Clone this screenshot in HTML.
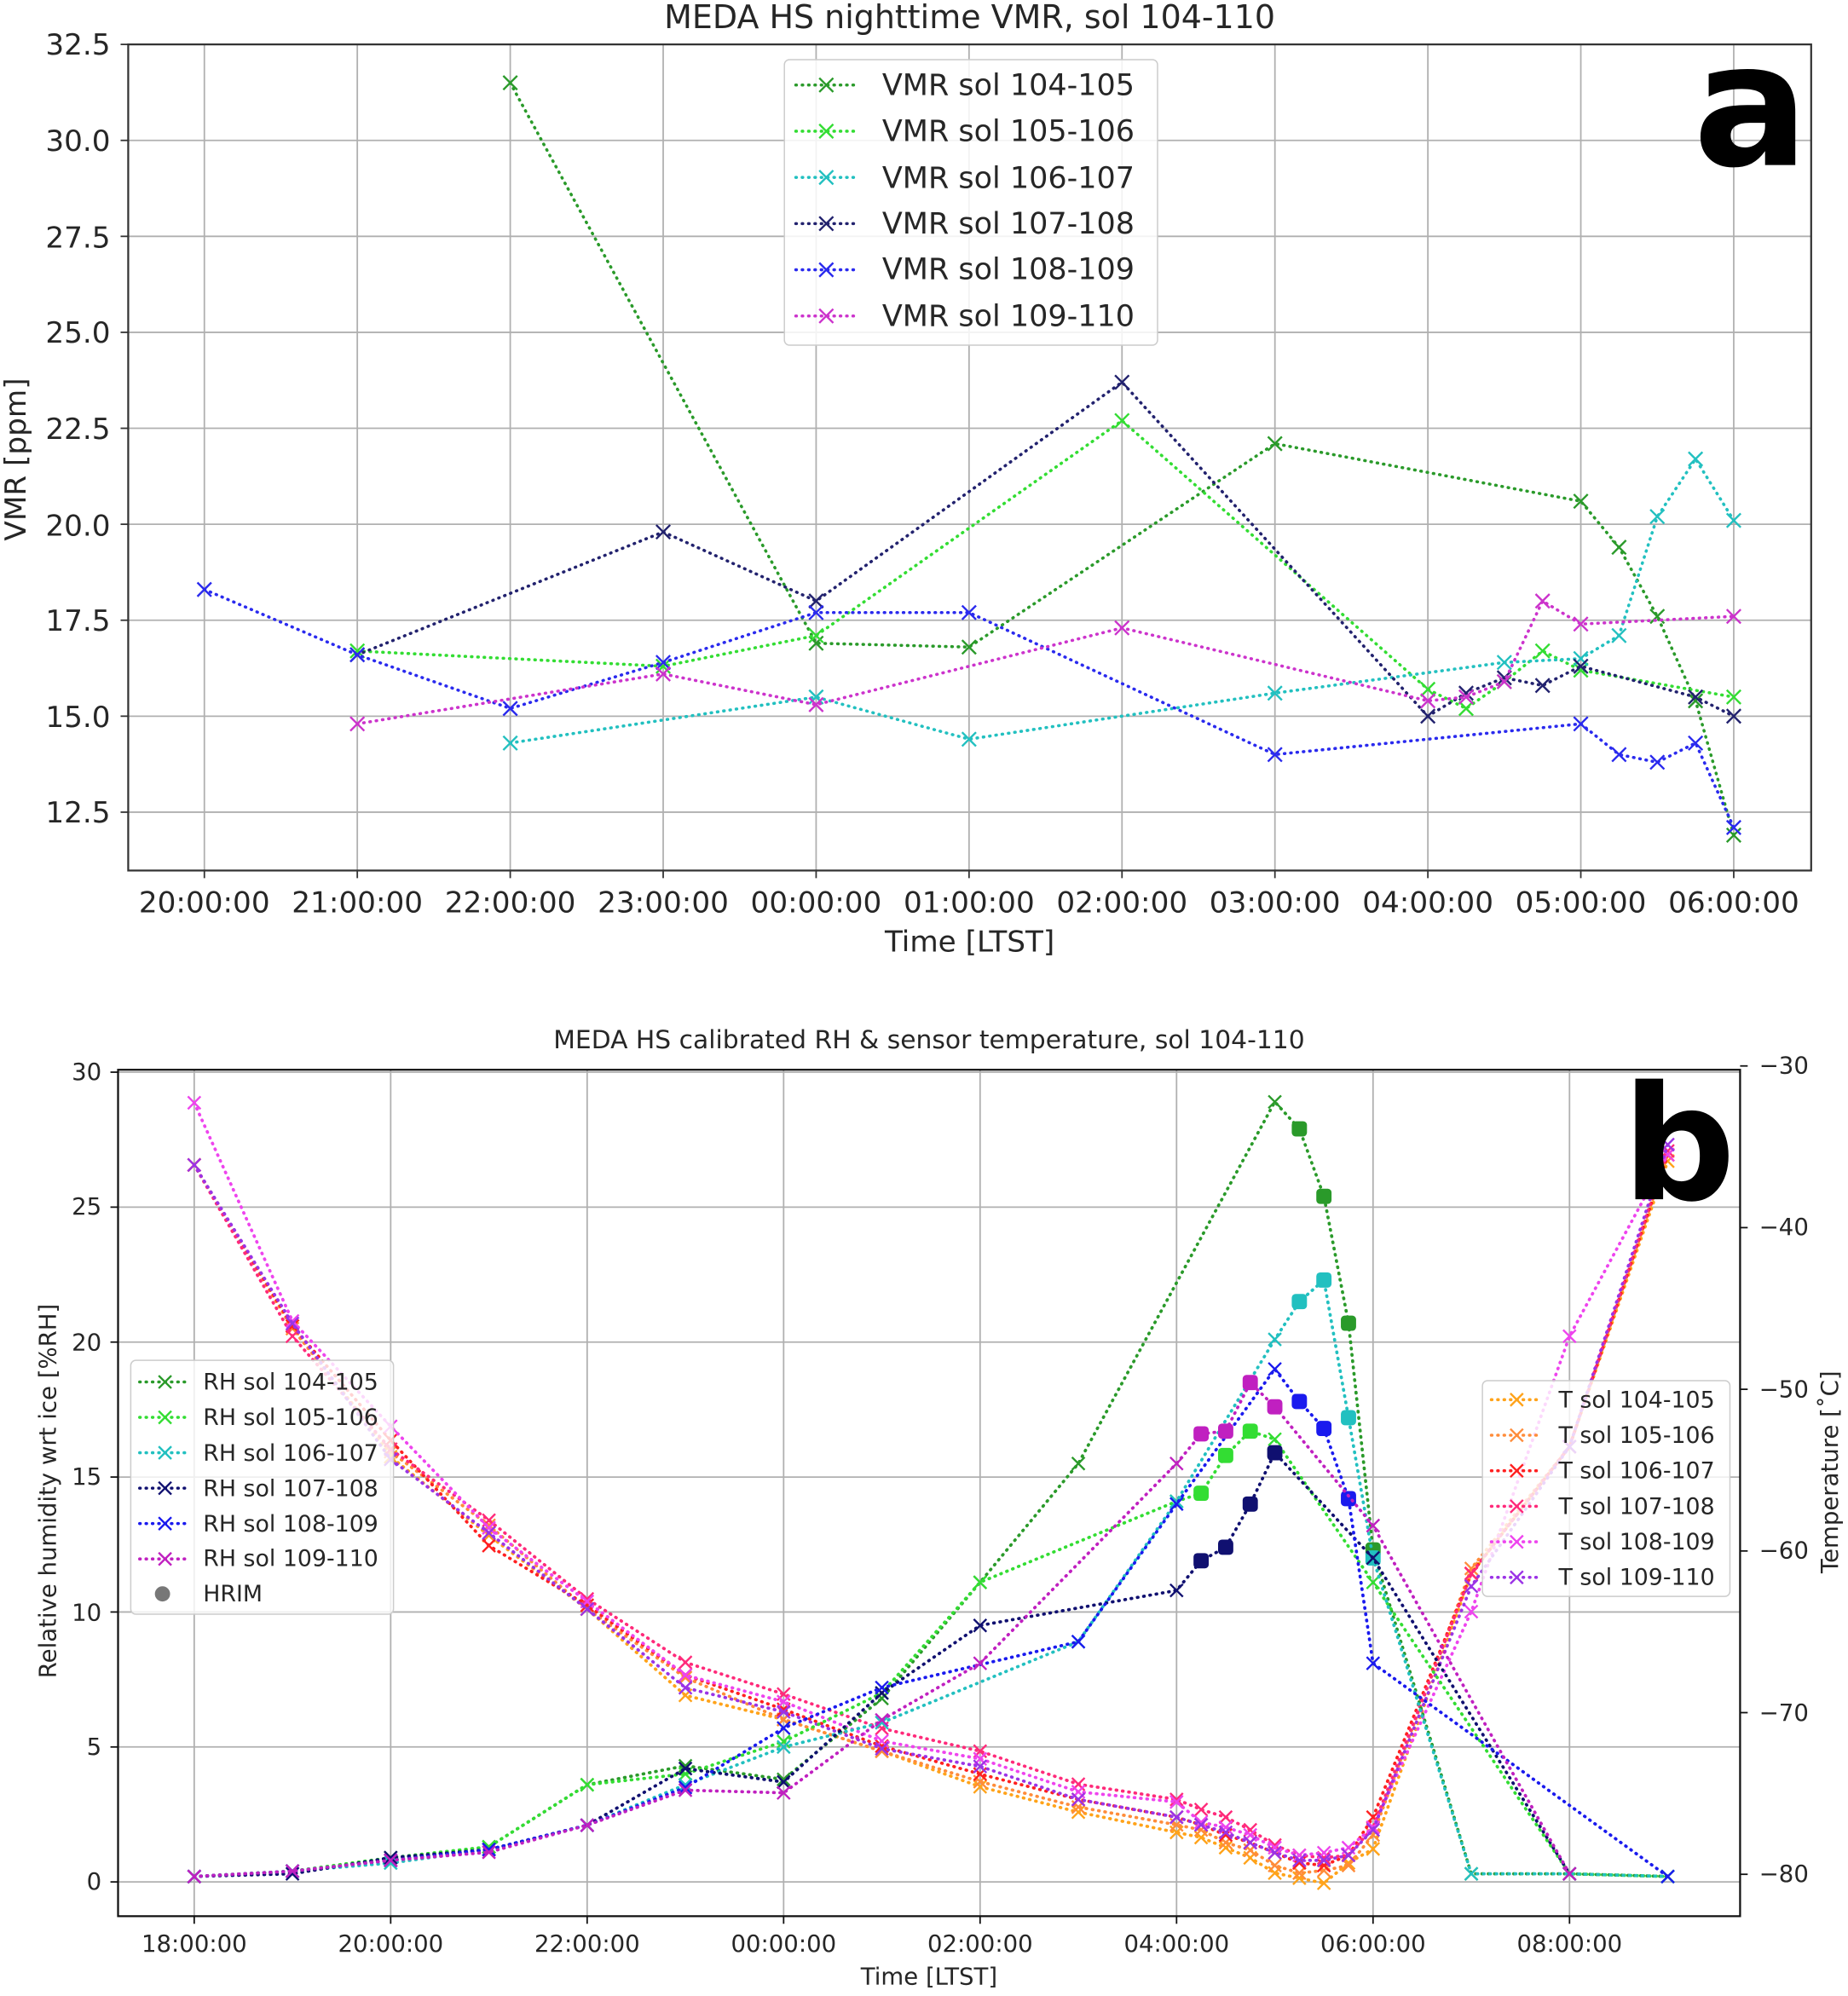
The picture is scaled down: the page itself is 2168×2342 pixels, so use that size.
<!DOCTYPE html>
<html><head><meta charset="utf-8"><style>
html,body{margin:0;padding:0;background:#fff}
svg{display:block}
text{font-family:"DejaVu Sans","Liberation Sans",sans-serif;fill:#262626}
</style></head><body>
<svg id="s" width="2168" height="2342" viewBox="0 0 1456 1572.9" xmlns="http://www.w3.org/2000/svg">
<rect width="1456" height="1573" fill="#fff"/>
<g id="grid" stroke="#b0b0b0" stroke-width="1.2"></g>
<g id="series"></g>
<!-- Panel a frame -->
<rect x="101" y="35" width="1326" height="651" fill="none" stroke="#333" stroke-width="1.5"/>
<text x="764" y="22" font-size="25.5" text-anchor="middle">MEDA HS nighttime VMR, sol 104-110</text>
<g font-size="23" text-anchor="end">
<text x="87" y="43">32.5</text><text x="87" y="119">30.0</text><text x="87" y="195">27.5</text>
<text x="87" y="270">25.0</text><text x="87" y="346">22.5</text><text x="87" y="422">20.0</text>
<text x="87" y="497">17.5</text><text x="87" y="573">15.0</text><text x="87" y="648">12.5</text>
</g>
<g font-size="23" text-anchor="middle">
<text x="161" y="719">20:00:00</text><text x="281.5" y="719">21:00:00</text><text x="402" y="719">22:00:00</text>
<text x="522.5" y="719">23:00:00</text><text x="643" y="719">00:00:00</text><text x="763.5" y="719">01:00:00</text>
<text x="884" y="719">02:00:00</text><text x="1004.5" y="719">03:00:00</text><text x="1125" y="719">04:00:00</text>
<text x="1245.5" y="719">05:00:00</text><text x="1366" y="719">06:00:00</text>
<text x="764" y="750">Time [LTST]</text>
</g>
<text font-size="23" text-anchor="middle" transform="translate(20,362) rotate(-90)">VMR [ppm]</text>
<text x="1334" y="130" font-size="135" font-weight="bold" style="fill:#000" font-family="Liberation Sans">a</text>
<!-- legend a -->
<rect x="618" y="47" width="294" height="225" rx="4" fill="#fff" fill-opacity="0.85" stroke="#ccc"/>
<g id="lega"></g>
<g font-size="23.5">
<text x="695" y="75">VMR sol 104-105</text><text x="695" y="111">VMR sol 105-106</text>
<text x="695" y="148">VMR sol 106-107</text><text x="695" y="184">VMR sol 107-108</text>
<text x="695" y="220">VMR sol 108-109</text><text x="695" y="257">VMR sol 109-110</text>
</g>
<!-- Panel b -->
<rect x="93" y="843" width="1278" height="667" fill="none" stroke="#111" stroke-width="1.5"/>
<text x="732" y="826" font-size="20" text-anchor="middle">MEDA HS calibrated RH &amp; sensor temperature, sol 104-110</text>
<g font-size="18.5" text-anchor="end">
<text x="80" y="1489">0</text><text x="80" y="1383">5</text><text x="80" y="1277">10</text>
<text x="80" y="1170">15</text><text x="80" y="1064">20</text><text x="80" y="957">25</text><text x="80" y="851">30</text>
</g>
<g font-size="18.5">
<text x="1386" y="846">−30</text><text x="1386" y="973">−40</text><text x="1386" y="1101">−50</text>
<text x="1386" y="1228">−60</text><text x="1386" y="1356">−70</text><text x="1386" y="1483">−80</text>
</g>
<g font-size="18.5" text-anchor="middle">
<text x="153" y="1538">18:00:00</text><text x="307.8" y="1538">20:00:00</text><text x="462.6" y="1538">22:00:00</text>
<text x="617.4" y="1538">00:00:00</text><text x="772.2" y="1538">02:00:00</text><text x="927" y="1538">04:00:00</text>
<text x="1081.8" y="1538">06:00:00</text><text x="1236.6" y="1538">08:00:00</text>
<text x="732" y="1564">Time [LTST]</text>
</g>
<text font-size="18.5" text-anchor="middle" transform="translate(44,1175) rotate(-90)">Relative humidity wrt ice [%RH]</text>
<text font-size="18.5" text-anchor="middle" transform="translate(1448,1160) rotate(-90)">Temperature [˚C]</text>
<text x="1278" y="945" font-size="125" font-weight="bold" style="fill:#000" font-family="Liberation Sans">b</text>
<rect x="103" y="1072" width="207" height="200" rx="4" fill="#fff" fill-opacity="0.8" stroke="#ccc"/>
<rect x="1168" y="1088" width="195" height="170" rx="4" fill="#fff" fill-opacity="0.8" stroke="#ccc"/>
<g id="legb"></g>
<g font-size="18">
<text x="160" y="1095">RH sol 104-105</text><text x="160" y="1123">RH sol 105-106</text>
<text x="160" y="1151">RH sol 106-107</text><text x="160" y="1179">RH sol 107-108</text>
<text x="160" y="1207">RH sol 108-109</text><text x="160" y="1234">RH sol 109-110</text>
<text x="160" y="1262">HRIM</text>
<text x="1228" y="1109">T sol 104-105</text><text x="1228" y="1137">T sol 105-106</text>
<text x="1228" y="1165">T sol 106-107</text><text x="1228" y="1193">T sol 107-108</text>
<text x="1228" y="1221">T sol 108-109</text><text x="1228" y="1249">T sol 109-110</text>
</g>
</svg>
<script>
var NS="http://www.w3.org/2000/svg";
function el(p,t,a){var e=document.createElementNS(NS,t);for(var k in a)e.setAttribute(k,a[k]);p.appendChild(e);return e;}
var G=document.getElementById("grid"),S=document.getElementById("series");
for(var h=0;h<=10;h++){var x=161+120.5*h;el(G,"line",{x1:x,y1:35,x2:x,y2:686});el(G,"line",{x1:x,y1:686,x2:x,y2:692,stroke:"#333"});}
for(var i=0;i<9;i++){var y=35+i*75.625;el(G,"line",{x1:101,y1:y,x2:1427,y2:y});el(G,"line",{x1:95,y1:y,x2:101,y2:y,stroke:"#333"});}
for(var h=0;h<=14;h+=2){var x=153+77.4*h;el(G,"line",{x1:x,y1:843,x2:x,y2:1510});el(G,"line",{x1:x,y1:1510,x2:x,y2:1516,stroke:"#111"});}
for(var v=0;v<=30;v+=5){var y=1483-v*21.27;el(G,"line",{x1:93,y1:y,x2:1371,y2:y});el(G,"line",{x1:87,y1:y,x2:93,y2:y,stroke:"#111"});}
for(var t=-30;t>=-80;t-=10){var y=840+(-30-t)*12.74;el(G,"line",{x1:1371,y1:y,x2:1377,y2:y,stroke:"#111"});}
function cross(g,x,y,s,c,w){el(g,"path",{d:"M"+(x-s)+" "+(y-s)+"L"+(x+s)+" "+(y+s)+"M"+(x-s)+" "+(y+s)+"L"+(x+s)+" "+(y-s),stroke:c,"stroke-width":w||1.6,fill:"none"});}
function line(g,pts,c,w){var d=pts.map(function(p,i){return (i?"L":"M")+p[0].toFixed(1)+" "+p[1].toFixed(1)}).join("");
 el(g,"path",{d:d,stroke:c,"stroke-width":w||2.4,fill:"none","stroke-dasharray":"0.5 4.5","stroke-linecap":"round"});}
function XA(h){return 161+120.5*h}function YA(v){return 35+(32.5-v)*30.25}
var A=[
["#2a9a2a",[[2,31.5],[4,16.9],[5,16.8],[7,22.1],[9,20.6],[9.25,19.4],[9.5,17.6],[9.75,15.4],[10,11.9]]],
["#33dd33",[[1,16.7],[3,16.3],[4,17.1],[6,22.7],[8,15.7],[8.25,15.2],[8.5,15.9],[8.75,16.7],[9,16.2],[10,15.5]]],
["#22c0c0",[[2,14.3],[4,15.5],[5,14.4],[7,15.6],[8.5,16.4],[9,16.5],[9.25,17.1],[9.5,20.2],[9.75,21.7],[10,20.1]]],
["#22226e",[[1,16.6],[3,19.8],[4,18.0],[6,23.7],[8,15.0],[8.25,15.6],[8.5,16.0],[8.75,15.8],[9,16.3],[9.75,15.5],[10,15.0]]],
["#2a2aee",[[0,18.3],[1,16.6],[2,15.2],[3,16.4],[4,17.7],[5,17.7],[7,14.0],[9,14.8],[9.25,14.0],[9.5,13.8],[9.75,14.3],[10,12.1]]],
["#cc33cc",[[1,14.8],[3,16.1],[4,15.3],[6,17.3],[8,15.4],[8.25,15.5],[8.5,15.9],[8.75,18.0],[9,17.4],[10,17.6]]]];
A.forEach(function(s){var p=s[1].map(function(q){return [XA(q[0]),YA(q[1])]});line(S,p,s[0]);p.forEach(function(q){cross(S,q[0],q[1],5.5,s[0])});});
var LA=document.getElementById("lega");
A.forEach(function(s,i){var y=67+i*36.4;line(LA,[[627,y],[675,y]],s[0]);cross(LA,651,y,5.5,s[0]);});
function XB(h){return 153+77.4*h}function YB(v){return 1483-v*21.27}
var B=[
["#2a9a2a",[[0,.2],[1,.4],[2,.8],[3,1.3],[4,3.6],[5,4.3],[6,3.8],[7,6.8],[8,11.1],[9,15.5],[11,28.9],[11.25,27.9],[11.5,25.4],[11.75,20.7],[12,12.3],[13,.3],[14,.3],[15,.2]],[11.25,11.5,11.75,12]],
["#33dd33",[[0,.2],[1,.4],[2,.9],[3,1.3],[4,3.6],[5,4.0],[6,5.2],[7,7.0],[8,11.1],[10,14.1],[10.25,14.4],[10.5,15.8],[10.75,16.7],[11,16.4],[12,11.1],[14,.3],[15,.2]],[10.25,10.5,10.75]],
["#22c0c0",[[0,.2],[1,.4],[2,.7],[3,1.2],[4,2.1],[5,3.6],[6,5.0],[7,5.9],[9,8.9],[10,14.1],[11,20.1],[11.25,21.5],[11.5,22.3],[11.75,17.2],[12,12.0],[13,.3],[14,.3],[15,.2]],[11.25,11.5,11.75,12]],
["#101070",[[0,.2],[1,.3],[2,.9],[3,1.2],[4,2.1],[5,4.2],[6,3.7],[7,7.0],[8,9.5],[10,10.8],[10.25,11.9],[10.5,12.4],[10.75,14.0],[11,15.9],[12,12.0],[14,.3]],[10.25,10.5,10.75,11]],
["#1a1aee",[[0,.2],[1,.4],[2,.8],[3,1.2],[4,2.1],[5,3.5],[6,5.7],[7,7.2],[9,8.9],[10,14.0],[11,19.0],[11.25,17.8],[11.5,16.8],[11.75,14.2],[12,8.1],[15,.2]],[11.25,11.5,11.75]],
["#c020c0",[[0,.2],[1,.4],[2,.8],[3,1.1],[4,2.1],[5,3.4],[6,3.3],[7,6.0],[8,8.1],[10,15.5],[10.25,16.6],[10.5,16.7],[10.75,18.5],[11,17.6],[12,13.2],[14,.3]],[10.25,10.5,10.75,11]]];
var TB=[[0,918],[1,1045],[2,1140],[3,1208],[4,1268],[5,1330],[6,1355],[7,1380],[8,1402],[9,1424],[10,1440],[10.25,1446],[10.5,1452],[10.75,1458],[11,1466],[11.25,1472],[11.5,1474],[11.75,1468],[12,1452],[13,1240],[14,1140],[15,910]];
var T=[["#ffa31a",[0,0,8,2,0,6,0,0,6,4,4,2,4,6,10,8,10,0,5,0,0,5]],
["#ff8c3a",[0,2,4,-6,0,-8,0,0,2,0,-2,-4,0,0,4,4,0,2,-6,-4,0,0]],
["#ff2020",[0,0,-5,10,-3,-10,-8,-4,-4,-6,-8,-8,-6,-6,-6,-4,-4,-6,-20,0,0,0]],
["#ff2a7a",[0,8,2,-10,-8,-20,-20,-18,-22,-18,-22,-20,-20,-16,-12,-10,-10,-6,-12,0,0,-3]],
["#ee44ee",[-49,-4,-16,-4,-6,-10,-14,-8,-16,-12,-20,-10,-12,-12,-10,-10,-14,-12,-12,30,-87,0]],
["#9b33e6",[0,-2,10,0,0,0,-6,-2,-10,-6,-8,-8,-8,-6,-6,-6,-8,-6,-10,10,0,-8]]];
T.forEach(function(s){var p=TB.map(function(q,i){return [XB(q[0]),q[1]+s[1][i]]});line(S,p,s[0],2.5);p.forEach(function(q){cross(S,q[0],q[1],5,s[0])});});
B.forEach(function(s){var hr=s[2];var p=s[1].map(function(q){return [XB(q[0]),YB(q[1]),q[0]]});line(S,p,s[0],2.5);
 p.forEach(function(q){if(hr.indexOf(q[2])>=0)el(S,"rect",{x:q[0]-6,y:q[1]-6,width:12,height:12,rx:3,fill:s[0]});else cross(S,q[0],q[1],5,s[0]);});});
var LB=document.getElementById("legb");
B.forEach(function(s,i){var y=1089+i*27.9;line(LB,[[110,y],[150,y]],s[0]);cross(LB,130,y,5,s[0]);});
el(LB,"circle",{cx:128,cy:1256,r:6,fill:"#777"});
T.forEach(function(s,i){var y=1103+i*28;line(LB,[[1175,y],[1215,y]],s[0]);cross(LB,1195,y,5,s[0]);});
</script>
</body></html>
